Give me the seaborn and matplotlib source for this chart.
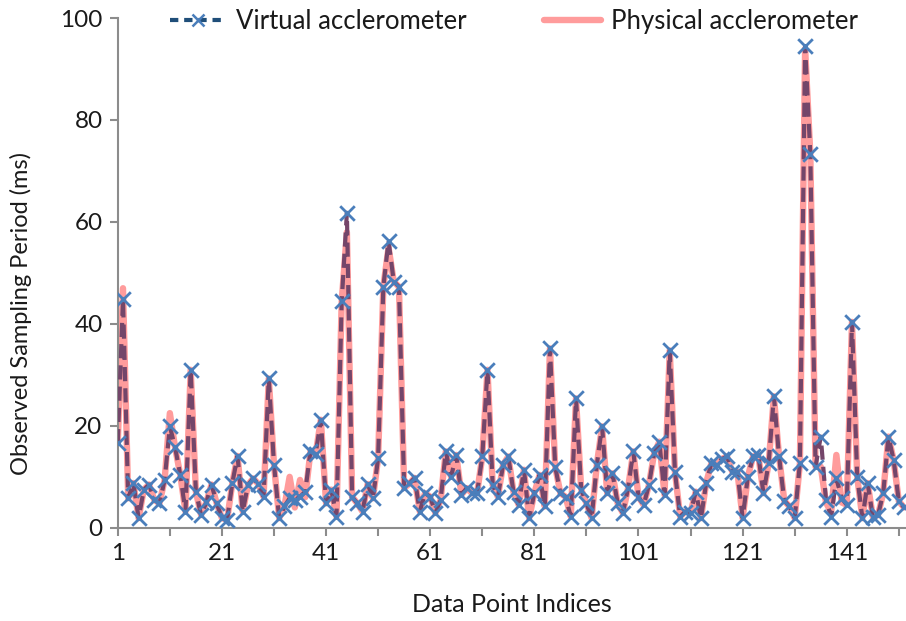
#!/usr/bin/env python3
"""Virtual vs physical accelerometer sampling period chart."""

import matplotlib
matplotlib.use("Agg")
import matplotlib.pyplot as plt
from matplotlib.lines import Line2D
import pandas as pd
import seaborn as sns

# observed sampling period (ms), one value per data point index (1..152)
virtual_ms = [
    16.6, 44.9, 5.8, 8.8, 1.9, 7.5, 8.5, 5.5, 4.8, 9.4,
    19.9, 15.8, 10.4, 3.2, 31.0, 7.1, 2.5, 5.0, 8.5, 4.8,
    1.9, 1.6, 8.8, 14.1, 3.2, 8.4, 9.7, 8.6, 6.1, 29.3,
    12.4, 1.9, 4.2, 5.8, 5.5, 6.1, 7.1, 15.0, 14.5, 21.2,
    4.8, 7.5, 2.2, 44.4, 61.8, 6.1, 4.8, 3.2, 8.6, 5.8,
    13.7, 47.3, 56.3, 48.3, 47.3, 7.8, 8.7, 9.8, 3.2, 6.8,
    6.1, 2.9, 5.5, 15.0, 10.0, 14.3, 6.5, 7.8, 6.8, 6.8,
    14.0, 31.0, 8.4, 6.1, 12.4, 14.0, 7.0, 4.5, 11.4, 1.9,
    6.8, 10.4, 4.2, 35.2, 12.0, 6.8, 6.1, 2.2, 25.4, 7.5,
    4.8, 1.9, 12.4, 19.9, 6.8, 10.7, 4.8, 2.9, 7.8, 15.0,
    6.1, 4.5, 8.4, 14.6, 16.9, 6.5, 34.8, 11.0, 2.2, 3.2,
    3.0, 7.1, 1.9, 8.8, 12.7, 12.4, 13.5, 14.0, 11.0, 11.0,
    1.9, 10.0, 14.0, 14.3, 6.8, 12.7, 25.8, 14.0, 5.3, 4.2,
    1.9, 12.7, 94.5, 73.3, 12.0, 17.9, 5.5, 2.2, 9.7, 5.8,
    4.5, 40.4, 10.0, 1.9, 8.8, 2.2, 2.5, 6.8, 17.9, 13.3,
    5.2, 4.0,
]

physical_ms = [
    16.6, 47.0, 5.8, 8.8, 1.9, 7.5, 8.5, 5.5, 4.8, 9.4,
    22.5, 15.8, 10.4, 3.2, 31.0, 7.1, 2.5, 5.0, 8.5, 4.8,
    1.9, 1.6, 8.8, 14.1, 3.2, 8.4, 9.7, 8.6, 6.1, 29.3,
    12.4, 1.9, 4.2, 10.0, 4.0, 9.4, 6.0, 15.0, 14.5, 21.2,
    4.8, 7.5, 2.2, 44.4, 58.0, 6.1, 4.8, 3.2, 8.6, 5.8,
    13.7, 47.3, 55.0, 48.3, 47.3, 7.8, 8.7, 9.8, 3.2, 6.8,
    6.1, 2.9, 5.5, 15.0, 10.0, 14.3, 6.5, 7.8, 6.8, 6.8,
    14.0, 31.0, 8.4, 6.1, 12.4, 14.0, 7.0, 4.5, 11.4, 1.9,
    6.8, 10.4, 4.2, 35.2, 12.0, 6.8, 6.1, 2.2, 25.4, 7.5,
    4.8, 1.9, 12.4, 19.9, 6.8, 10.7, 4.8, 2.9, 7.8, 15.0,
    6.1, 4.5, 8.4, 14.6, 16.9, 6.5, 34.8, 11.0, 2.2, 3.2,
    3.0, 7.1, 1.9, 8.8, 12.7, 12.4, 13.5, 14.0, 11.0, 11.0,
    1.9, 10.0, 14.0, 14.3, 6.8, 12.7, 25.8, 14.0, 5.3, 4.2,
    1.9, 12.7, 94.0, 73.3, 12.0, 12.0, 5.0, 3.0, 14.3, 5.0,
    4.5, 40.4, 10.0, 1.9, 8.8, 2.2, 2.5, 6.8, 17.9, 13.3,
    5.2, 4.0,
]

x_tick_labels = [1, 21, 41, 61, 81, 101, 121, 141]
y_ticks = [0, 20, 40, 60, 80, 100]

NAVY = "#1f4e79"
DASH_ON_PINK = "#74466a"   # how the navy dash reads on top of the pink band
MARKER_BLUE = "#4a7ebb"
PINK = "#ff9c9c"
AXIS_GRAY = "#8c8c8c"
TEXT = "#1a1a1a"


def main() -> None:
    sns.set_theme(style="white")
    plt.rcParams["font.family"] = ["Lato", "DejaVu Sans"]

    df = pd.DataFrame({
        "Index": range(1, len(virtual_ms) + 1),
        "Virtual": virtual_ms,
        "Physical": physical_ms,
    })

    fig = plt.figure(figsize=(9.06, 6.21), dpi=100)
    ax = fig.add_axes([0.130, 0.150, 0.869, 0.821])

    sns.lineplot(data=df, x="Index", y="Physical", color=PINK, linewidth=4.6,
                 ax=ax, zorder=2)
    sns.lineplot(data=df, x="Index", y="Virtual", color=DASH_ON_PINK, linewidth=3.0,
                 ax=ax, zorder=3)
    ax.lines[-1].set_dashes((3.4, 1.7))
    sns.scatterplot(data=df, x="Index", y="Virtual", marker="x", s=110,
                    color=MARKER_BLUE, linewidth=2.0, ax=ax, zorder=4)

    ax.set_xlim(1, 152.2)
    ax.set_ylim(0, 100)
    ax.set_xticks(range(1, 152, 10))
    ax.set_xticklabels([str(t) if t in x_tick_labels else "" for t in range(1, 152, 10)])
    ax.set_yticks(y_ticks)

    for side in ["top", "right"]:
        ax.spines[side].set_visible(False)
    for side in ["left", "bottom"]:
        ax.spines[side].set_color(AXIS_GRAY)
        ax.spines[side].set_linewidth(1.5)

    ax.tick_params(axis="both", direction="out", length=6, width=1.5,
                   color=AXIS_GRAY, labelsize=17.5, labelcolor=TEXT, pad=5)
    ax.tick_params(axis="x", bottom=True)
    ax.tick_params(axis="y", left=True)

    ax.set_xlabel("Data Point Indices", fontsize=18, color=TEXT)
    ax.set_ylabel("Observed Sampling Period (ms)", fontsize=17, color=TEXT)
    ax.xaxis.set_label_coords(0.5, -0.127)
    ax.yaxis.set_label_coords(-0.109, 0.42)
    ax.grid(False)

    handles = [
        Line2D([], [], color=NAVY, linewidth=3.0, dashes=(2.0, 1.4),
               marker="x", markersize=9, markeredgecolor=MARKER_BLUE,
               markeredgewidth=1.8),
        Line2D([], [], color=PINK, linewidth=4.6),
    ]
    fig.legend(handles, ["Virtual acclerometer", "Physical acclerometer"],
               loc="center", bbox_to_anchor=(0.567, 0.965), ncol=2,
               frameon=False, fontsize=18.5, handlelength=2.2,
               columnspacing=3.0, handletextpad=0.4, labelcolor=TEXT)

    fig.savefig("out.png", dpi=100)
    plt.close(fig)


if __name__ == "__main__":
    main()
